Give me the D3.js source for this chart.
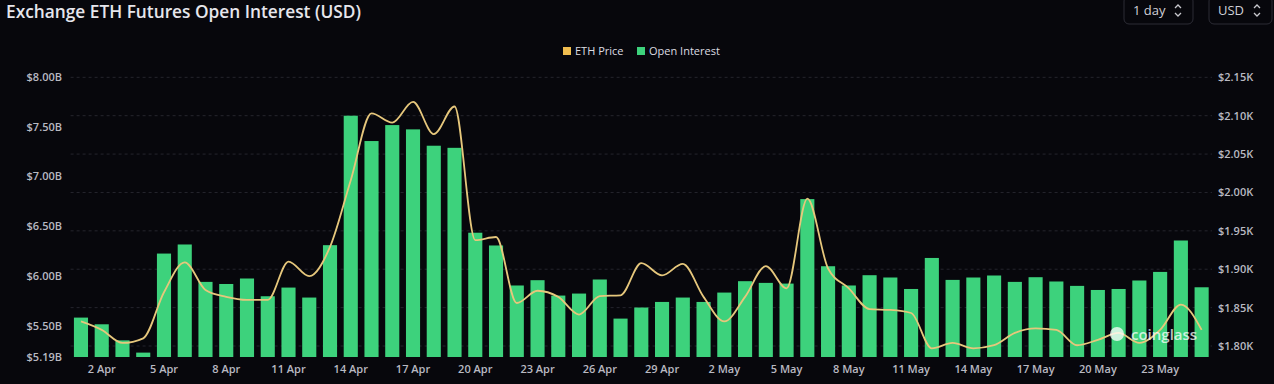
<!DOCTYPE html>
<html>
<head>
<meta charset="utf-8">
<script src="https://cdn.jsdelivr.net/npm/d3@7"></script>
<style>
  html, body { margin: 0; padding: 0; background: #07070c; }
  svg { display: block; font-family: "Open Sans", "DejaVu Sans", sans-serif; }
</style>
</head>
<body>
<script>
// categories: 1 Apr .. 25 May
var dates = [
  "1 Apr","2 Apr","3 Apr","4 Apr","5 Apr","6 Apr","7 Apr","8 Apr","9 Apr","10 Apr",
  "11 Apr","12 Apr","13 Apr","14 Apr","15 Apr","16 Apr","17 Apr","18 Apr","19 Apr","20 Apr",
  "21 Apr","22 Apr","23 Apr","24 Apr","25 Apr","26 Apr","27 Apr","28 Apr","29 Apr","30 Apr",
  "1 May","2 May","3 May","4 May","5 May","6 May","7 May","8 May","9 May","10 May",
  "11 May","12 May","13 May","14 May","15 May","16 May","17 May","18 May","19 May","20 May",
  "21 May","22 May","23 May","24 May","25 May"
];

// open interest, billions USD
var openInterest = [
  5.585, 5.518, 5.357, 5.234, 6.227, 6.318, 5.943, 5.922, 5.977, 5.799,
  5.886, 5.786, 6.311, 7.609, 7.355, 7.515, 7.472, 7.308, 7.287, 6.436,
  6.308, 5.907, 5.960, 5.806, 5.826, 5.967, 5.575, 5.686, 5.742, 5.786,
  5.742, 5.836, 5.950, 5.933, 5.926, 6.773, 6.100, 5.907, 6.010, 5.987,
  5.872, 6.183, 5.963, 5.987, 6.007, 5.943, 5.990, 5.947, 5.903, 5.862,
  5.872, 5.957, 6.043, 6.358, 5.889
];

// ETH price, thousands USD
var ethPrice = [
  1.832, 1.821, 1.804, 1.810, 1.870, 1.909, 1.873, 1.864, 1.860, 1.860,
  1.910, 1.891, 1.929, 2.016, 2.103, 2.091, 2.118, 2.076, 2.112, 1.938,
  1.942, 1.856, 1.872, 1.864, 1.841, 1.865, 1.866, 1.908, 1.892, 1.907,
  1.864, 1.832, 1.864, 1.904, 1.875, 1.992, 1.901, 1.875, 1.848, 1.847,
  1.843, 1.797, 1.804, 1.797, 1.801, 1.817, 1.823, 1.821, 1.801, 1.808,
  1.817, 1.804, 1.821, 1.854, 1.821
];

var xTickLabels = ["2 Apr","5 Apr","8 Apr","11 Apr","14 Apr","17 Apr","20 Apr","23 Apr","26 Apr",
  "29 Apr","2 May","5 May","8 May","11 May","14 May","17 May","20 May","23 May"];
var leftTicks = [5.19, 5.5, 6.0, 6.5, 7.0, 7.5, 8.0];
var rightTicks = [1.80, 1.85, 1.90, 1.95, 2.00, 2.05, 2.10, 2.15];

var width = 1274, height = 384;
var plot = {left: 70.6, right: 1212, top: 77, bottom: 357};

var svg = d3.select("body").append("svg")
  .attr("width", width)
  .attr("height", height);

svg.append("rect")
  .attr("width", width).attr("height", height)
  .attr("fill", "#07070c");

// scales
var x = d3.scaleBand()
  .domain(dates)
  .range([plot.left, plot.right])
  .paddingInner(0.32)
  .paddingOuter(0.16);

var yLeft = d3.scaleLinear()
  .domain([5.19, 8.0])
  .range([plot.bottom, 76.7]);

var yRight = d3.scaleLinear()
  .domain([1.80, 2.10])
  .range([346, 115.7]);

// gridlines (from the price axis)
svg.append("g")
  .selectAll("line")
  .data(rightTicks)
  .enter()
  .append("line")
    .attr("x1", plot.left)
    .attr("x2", plot.right)
    .attr("y1", function(d) { return yRight(d); })
    .attr("y2", function(d) { return yRight(d); })
    .attr("stroke", "#25252d")
    .attr("stroke-width", 1)
    .attr("stroke-dasharray", "3,3");

// bars
svg.append("g")
  .selectAll("rect")
  .data(openInterest)
  .enter()
  .append("rect")
    .attr("x", function(d, i) { return x(dates[i]); })
    .attr("width", x.bandwidth())
    .attr("y", function(d) { return yLeft(d); })
    .attr("height", function(d) { return yLeft(5.19) - yLeft(d); })
    .attr("fill", "#3dd27c");

// price line
var line = d3.line()
  .x(function(d, i) { return x(dates[i]) + x.bandwidth() / 2; })
  .y(function(d) { return yRight(d); })
  .curve(d3.curveMonotoneX);

svg.append("path")
  .datum(ethPrice)
  .attr("d", line)
  .attr("fill", "none")
  .attr("stroke", "#e6c77c")
  .attr("stroke-width", 1.8);

// left axis
var leftAxis = svg.append("g")
  .attr("transform", "translate(62,0)")
  .call(d3.axisLeft(yLeft)
    .tickValues(leftTicks)
    .tickSize(0)
    .tickPadding(0)
    .tickFormat(function(d) { return "$" + d.toFixed(2) + "B"; }));
leftAxis.select(".domain").remove();

// right axis
var rightAxis = svg.append("g")
  .attr("transform", "translate(1218,0)")
  .call(d3.axisRight(yRight)
    .tickValues(rightTicks)
    .tickSize(0)
    .tickPadding(0)
    .tickFormat(function(d) { return "$" + d.toFixed(2) + "K"; }));
rightAxis.select(".domain").remove();

// x axis
var xAxis = svg.append("g")
  .attr("transform", "translate(0," + plot.bottom + ")")
  .call(d3.axisBottom(x)
    .tickValues(xTickLabels)
    .tickSize(0)
    .tickPadding(8));
xAxis.select(".domain").remove();

svg.selectAll(".tick text")
  .attr("fill", "#b9b9c2")
  .style("font-size", "11px")
  .style("font-weight", "600")
  .style("font-family", "'Open Sans', sans-serif");

// title
svg.append("text")
  .attr("x", 6)
  .attr("y", 18)
  .attr("fill", "#e6e6ec")
  .style("font-size", "17.3px")
  .style("font-weight", "600")
  .text("Exchange ETH Futures Open Interest (USD)");

// selector boxes
var boxes = [
  {label: "1 day", x: 1124, w: 69},
  {label: "USD", x: 1209, w: 63}
];
boxes.forEach(function(b) {
  svg.append("rect")
    .attr("x", b.x).attr("y", -4)
    .attr("width", b.w).attr("height", 28)
    .attr("rx", 5)
    .attr("fill", "none")
    .attr("stroke", "#2c2c35");
  svg.append("text")
    .attr("x", b.x + 9).attr("y", 15)
    .attr("fill", "#d0d0d6")
    .style("font-size", "13px")
    .text(b.label);
  var cx = b.x + b.w - 15;
  svg.append("path")
    .attr("d", "M" + (cx - 3) + ",8 L" + cx + ",5 L" + (cx + 3) + ",8 M" + (cx - 3) + ",13 L" + cx + ",16 L" + (cx + 3) + ",13")
    .attr("fill", "none")
    .attr("stroke", "#c8c8ce")
    .attr("stroke-width", 1.3);
});

// legend
var legend = [
  {label: "ETH Price", color: "#f0bd4f", x: 563},
  {label: "Open Interest", color: "#3dd27c", x: 637}
];
legend.forEach(function(l) {
  svg.append("rect")
    .attr("x", l.x).attr("y", 47)
    .attr("width", 8).attr("height", 8)
    .attr("fill", l.color);
  svg.append("text")
    .attr("x", l.x + 12).attr("y", 55)
    .attr("fill", "#dcdce2")
    .style("font-size", "11px")
    .text(l.label);
});

// watermark
svg.append("circle")
  .attr("cx", 1117).attr("cy", 334).attr("r", 7)
  .attr("fill", "#ffffff").attr("opacity", 0.75);
svg.append("text")
  .attr("x", 1131).attr("y", 340)
  .attr("fill", "#ffffff")
  .attr("opacity", 0.75)
  .style("font-size", "15px")
  .style("font-weight", "600")
  .text("coinglass");
</script>
</body>
</html>
